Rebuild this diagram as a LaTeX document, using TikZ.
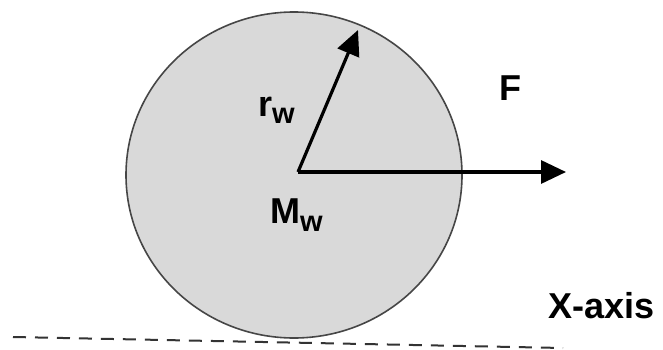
\documentclass[tikz,border=0pt]{standalone}
\usepackage{fontspec}
\setmainfont{Liberation Sans}
\usetikzlibrary{shapes.geometric, arrows.meta, positioning}
\definecolor{WheelGray}{RGB}{217, 217, 217}
\definecolor{RimGray}{RGB}{70, 70, 70}

\begin{document}
\begin{tikzpicture}[
        x=1pt, y=-1pt,
        wheel/.style={ellipse, draw=RimGray, line width=1.6pt, fill=WheelGray, minimum width=336pt, minimum height=326pt, inner sep=0pt},
        vec/.style={-{Triangle[length=25pt, width=23pt]}, line width=3.2pt},
        lbl/.style={font=\bfseries\fontsize{36}{36}\selectfont, anchor=base west, inner sep=0pt},
        ground/.style={dash pattern=on 13pt off 9pt, line width=2pt, black!80}
    ]
        \useasboundingbox (0,0) rectangle (663,350);
        \node[wheel] (wheel) at (294,175) {};
        \coordinate (hub) at (298,172);
        \coordinate (rim) at (358,30);
        \coordinate (ftip) at (566,172);
        \draw[vec] (hub) -- (rim);
        \draw[vec] (hub) -- (ftip);

        \node[lbl] (rw) at (258,117) {r\raisebox{-7pt}{\fontsize{29}{29}\selectfont w}};
        \node[lbl] (mw) at (270,223) {M\raisebox{-8pt}{\fontsize{29}{29}\selectfont w}};
        \node[lbl] (force) at (499,101) {F};
        \node[lbl] (xaxis) at (548,318) {X-axis};

        % ground line under the wheel
        \coordinate (gl) at (13,337);
        \coordinate (gr) at (563,348);
        \draw[ground] (gl) -- (gr);
    \end{tikzpicture}
\end{document}
